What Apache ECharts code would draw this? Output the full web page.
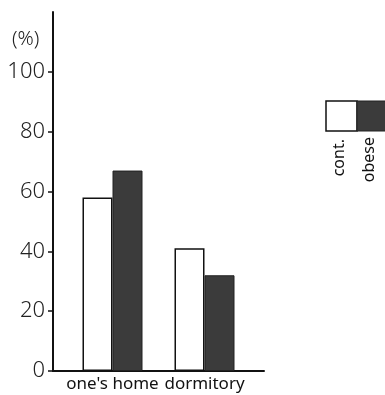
<!DOCTYPE html>
<html><head><meta charset="utf-8">
<script src="https://cdn.jsdelivr.net/npm/echarts@6/dist/echarts.min.js"></script>
<style>html,body{margin:0;padding:0;background:#fff}#c{width:385px;height:395px}</style>
</head><body><div id="c"></div>
<script>
var categories = ["one's home", "dormitory"];
var seriesNames = ["cont.", "obese"];
var contValues = [58, 41];
var obeseValues = [67, 32];
var yTicks = [0, 20, 40, 60, 80, 100];
var unitLabel = "(%)";

var FONT = "'Noto Sans', 'DejaVu Sans', sans-serif";
var chart = echarts.init(document.getElementById('c'));
chart.setOption({
  animation: false,
  backgroundColor: '#fff',
  grid: [
    {left: 53, right: 121, top: 12, bottom: 24},
    {left: 66.5, right: 134.5, top: 12, bottom: 24}
  ],
  xAxis: [
    {gridIndex: 0, type: 'category', data: [''],
     axisLine: {lineStyle: {color: '#111', width: 2}},
     axisTick: {show: false}, axisLabel: {show: false}, splitLine: {show: false}},
    {gridIndex: 1, type: 'category', data: categories,
     axisLine: {show: false}, axisTick: {show: false},
     axisLabel: {color: '#111', fontSize: 17, fontFamily: FONT, margin: 5, interval: 0}}
  ],
  yAxis: [
    {gridIndex: 0, type: 'value', min: 0, max: 120, interval: 20,
     axisLine: {show: true, lineStyle: {color: '#111', width: 2}},
     axisTick: {show: true, length: 5, lineStyle: {color: '#111', width: 1.5}, customValues: yTicks},
     axisLabel: {color: '#222', fontSize: 22, fontWeight: 300, fontFamily: FONT, margin: 8, customValues: yTicks},
     splitLine: {show: false}},
    {gridIndex: 1, type: 'value', min: 0, max: 120, show: false, splitLine: {show: false}}
  ],
  series: [
    {name: seriesNames[0], type: 'bar', xAxisIndex: 1, yAxisIndex: 1, data: contValues,
     barWidth: 30, barGap: '0%',
     itemStyle: {color: '#fff', borderColor: '#111', borderWidth: 1.5}},
    {name: seriesNames[1], type: 'bar', xAxisIndex: 1, yAxisIndex: 1, data: obeseValues,
     barWidth: 30, barGap: '0%',
     itemStyle: {color: '#3b3b3b', borderColor: '#222', borderWidth: 1}}
  ],
  graphic: [
    {type: 'text', left: 12, top: 29, style: {text: unitLabel, fontSize: 20, fontWeight: 300, fontFamily: FONT, fill: '#222'}},
    {type: 'rect', shape: {x: 326, y: 101, width: 31, height: 30}, style: {fill: '#fff', stroke: '#111', lineWidth: 1.5}},
    {type: 'rect', shape: {x: 357, y: 101, width: 30, height: 30}, style: {fill: '#3b3b3b', stroke: '#222', lineWidth: 1}},
    {type: 'text', x: 339, y: 139, rotation: Math.PI / 2,
     style: {text: seriesNames[0], fontSize: 16, fontFamily: FONT, fill: '#111', align: 'right', verticalAlign: 'middle'}},
    {type: 'text', x: 369, y: 137, rotation: Math.PI / 2,
     style: {text: seriesNames[1], fontSize: 16, fontFamily: FONT, fill: '#111', align: 'right', verticalAlign: 'middle'}}
  ]
});
</script></body></html>
